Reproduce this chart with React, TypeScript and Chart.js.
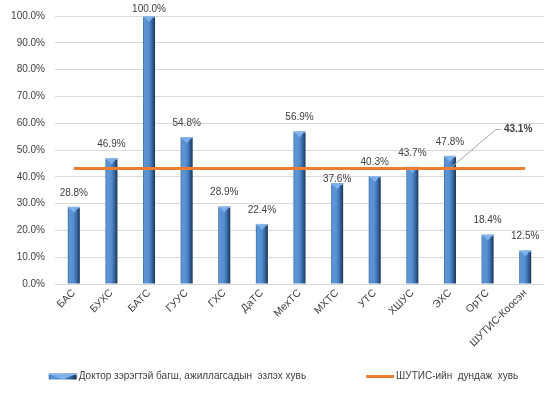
import React, { useEffect, useRef } from 'react';
import { Chart, registerables } from 'chart.js';

Chart.register(...registerables);

const categories = ['БАС', 'БУХС', 'БАТС', 'ГУУС', 'ГХС', 'ДаТС', 'МехТС', 'МХТС', 'УТС', 'ХШУС', 'ЭХС', 'ОрТС', 'ШУТИС-Коосэн'];
const doctorShare = [28.8, 46.9, 100.0, 54.8, 28.9, 22.4, 56.9, 37.6, 40.3, 43.7, 47.8, 18.4, 12.5];
const averageShare = [43.1, 43.1, 43.1, 43.1, 43.1, 43.1, 43.1, 43.1, 43.1, 43.1, 43.1, 43.1, 43.1];
const seriesNames = ['Доктор зэрэгтэй багш, ажиллагсадын  эзлэх хувь', 'ШУТИС-ийн  дундаж  хувь'];
const averageCalloutIndex = 10;

const FONT = "'Liberation Sans', Arial, sans-serif";
const TEXT = '#404040';
const ORANGE = '#ED7D31';

function paintBar(ctx: CanvasRenderingContext2D, left: number, right: number, top: number, bottom: number) {
  const g = ctx.createLinearGradient(left, 0, right, 0);
  g.addColorStop(0, '#3A6B9F');
  g.addColorStop(0.1, '#5C94D4');
  g.addColorStop(0.45, '#5890D2');
  g.addColorStop(0.7, '#3D71AE');
  g.addColorStop(0.85, '#2A5283');
  g.addColorStop(1, '#1C3656');
  ctx.fillStyle = g;
  ctx.fillRect(left, top, right - left, bottom - top);
  const w = right - left;
  ctx.fillStyle = '#8DB9EA';
  ctx.fillRect(left, top, w, 1.5);
  ctx.beginPath();
  ctx.moveTo(left + 1.5, top + 1);
  ctx.lineTo(right - 1.5, top + 1);
  ctx.lineTo(left + w / 2, top + Math.min(6, bottom - top));
  ctx.closePath();
  ctx.fillStyle = '#7EB0EA';
  ctx.fill();
}

const customDraw = {
  id: 'customDraw',
  beforeDatasetDraw(chart: any, args: any) {
    if (args.index !== 0) return;
    const ctx = chart.ctx as CanvasRenderingContext2D;
    ctx.save();
    args.meta.data.forEach((el: any) => {
      const { x, y, base, width } = el.getProps(['x', 'y', 'base', 'width'], true);
      paintBar(ctx, x - width / 2, x + width / 2, Math.min(y, base), Math.max(y, base));
    });
    ctx.restore();
    return false;
  },
  afterDatasetsDraw(chart: any) {
    const ctx = chart.ctx as CanvasRenderingContext2D;
    const barMeta = chart.getDatasetMeta(0);
    const lineMeta = chart.getDatasetMeta(1);
    const lineY = lineMeta.data[0].y;
    ctx.save();
    ctx.font = `10px ${FONT}`;
    ctx.fillStyle = TEXT;
    ctx.textAlign = 'center';
    ctx.textBaseline = 'middle';
    barMeta.data.forEach((el: any, i: number) => {
      let ly = el.y - 14;
      if (Math.abs(ly - lineY) < 4) ly = lineY + 11;
      ly = Math.max(ly, 9);
      ctx.fillText(doctorShare[i].toFixed(1) + '%', el.x, ly);
    });
    const p = lineMeta.data[averageCalloutIndex];
    const ex = p.x + 46;
    const ey = p.y - 39;
    ctx.strokeStyle = '#A6A6A6';
    ctx.lineWidth = 1;
    ctx.beginPath();
    ctx.moveTo(p.x, p.y);
    ctx.lineTo(ex, ey);
    ctx.lineTo(ex + 5, ey);
    ctx.stroke();
    ctx.font = `bold 10px ${FONT}`;
    ctx.textAlign = 'left';
    ctx.fillText(averageShare[averageCalloutIndex].toFixed(1) + '%', ex + 8, ey);
    ctx.restore();
  },
  afterDraw(chart: any) {
    const ctx = chart.ctx as CanvasRenderingContext2D;
    ctx.save();
    ctx.font = `10px ${FONT}`;
    ctx.textBaseline = 'middle';
    ctx.textAlign = 'left';
    const box = 28, gap = 2, spacing = 60;
    const t1 = ctx.measureText(seriesNames[0]).width;
    const t2 = ctx.measureText(seriesNames[1]).width;
    const total = box + gap + t1 + spacing + box + gap + t2;
    let x = (chart.width - total) / 2 + 4;
    const cy = 376.5;
    paintBar(ctx, x, x + box, cy - 3, cy + 3);
    ctx.fillStyle = TEXT;
    ctx.fillText(seriesNames[0], x + box + gap, cy);
    x += box + gap + t1 + spacing;
    ctx.strokeStyle = ORANGE;
    ctx.lineWidth = 3;
    ctx.beginPath();
    ctx.moveTo(x, cy);
    ctx.lineTo(x + box, cy);
    ctx.stroke();
    ctx.fillStyle = TEXT;
    ctx.fillText(seriesNames[1], x + box + gap, cy);
    ctx.restore();
  },
};

export default function App() {
  const canvasRef = useRef<HTMLCanvasElement | null>(null);

  useEffect(() => {
    if (!canvasRef.current) return;
    const chart = new Chart(canvasRef.current, {
      type: 'bar',
      data: {
        labels: categories,
        datasets: [
          {
            type: 'bar',
            label: seriesNames[0],
            data: doctorShare,
            backgroundColor: '#4F81BD',
            barPercentage: 0.32,
            categoryPercentage: 1,
            order: 1,
          } as any,
          {
            type: 'line',
            label: seriesNames[1],
            data: averageShare,
            borderColor: ORANGE,
            backgroundColor: ORANGE,
            borderWidth: 3,
            pointRadius: 0,
            fill: false,
            tension: 0,
            order: 0,
          } as any,
        ],
      },
      options: {
        animation: false,
        responsive: true,
        maintainAspectRatio: false,
        layout: { padding: { left: 0, right: 15, top: 14, bottom: 31 } },
        plugins: {
          legend: { display: false },
          tooltip: { enabled: false },
        },
        scales: {
          x: {
            grid: { display: false, drawTicks: false },
            border: { display: false },
            ticks: {
              minRotation: 45,
              maxRotation: 45,
              autoSkip: false,
              padding: 3,
              color: TEXT,
              font: { family: FONT, size: 10.5 },
            },
            afterFit: (s: any) => { s.height = 80; },
          },
          y: {
            min: 0,
            max: 100,
            grid: { color: '#D9D9D9', drawTicks: false, lineWidth: 1 },
            border: { display: false },
            ticks: {
              stepSize: 10,
              padding: 10,
              color: TEXT,
              font: { family: FONT, size: 10 },
              callback: (v: any) => Number(v).toFixed(1) + '%',
            },
            afterFit: (s: any) => { s.width = 55; },
          },
        },
      } as any,
      plugins: [customDraw],
    });
    return () => chart.destroy();
  }, []);

  return (
    <div style={{ position: 'absolute', left: 0, top: 0, width: 559, height: 395, background: '#fff' }}>
      <canvas ref={canvasRef} />
    </div>
  );
}
